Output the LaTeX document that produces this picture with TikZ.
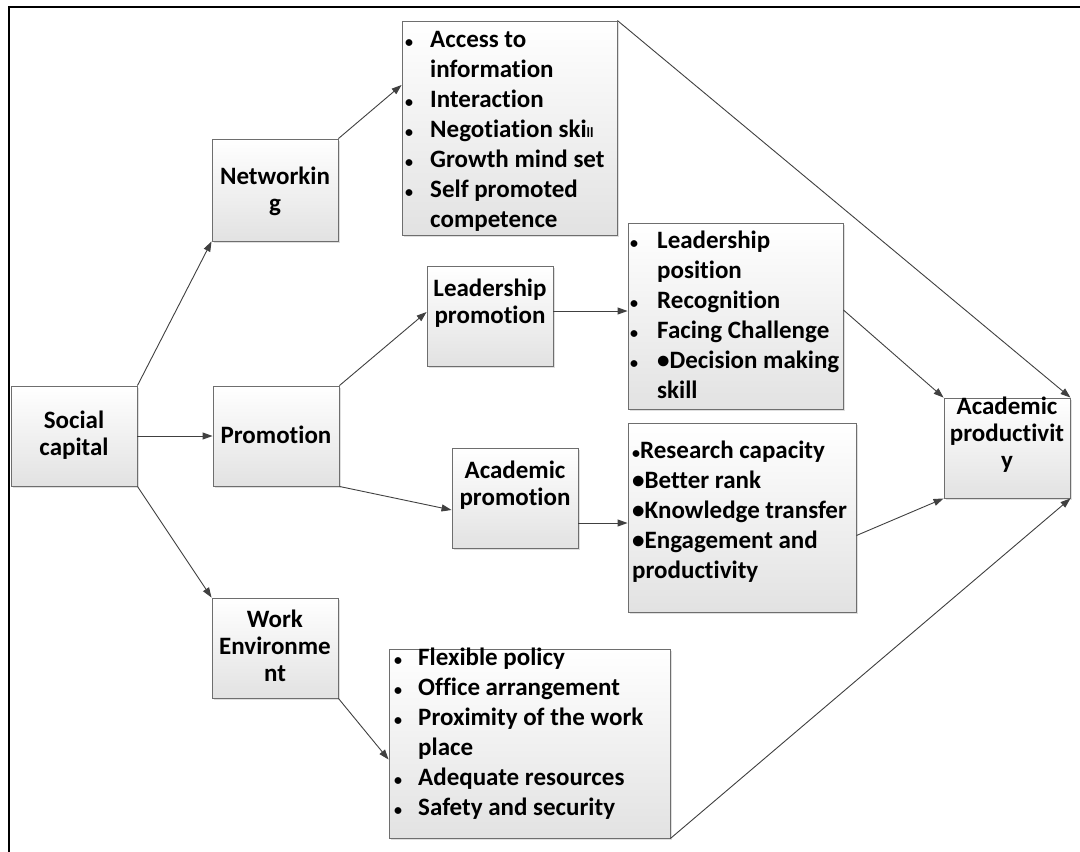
\documentclass[tikz,border=0pt]{standalone}
\usepackage{fontspec}
\setmainfont{Carlito}[Ligatures=NoCommon]
\usetikzlibrary{arrows.meta,shadows}

\definecolor{boxline}{RGB}{110,110,110}
\definecolor{boxfill}{RGB}{226,226,226}
\definecolor{linkgray}{RGB}{64,64,64}

\newlength\bw
\newcommand\bl{\makebox[\bw][l]{\fontsize{16}{16}\selectfont\textbullet}}
\newcommand\ind{\hspace*{\bw}}
\newcommand\smallbl{{\fontsize{16}{16}\selectfont\textbullet}}

\tikzset{
  bwidth/.code={\setlength\bw{#1}},
  box/.style={draw=boxline, line width=0.9pt, top color=white, bottom color=boxfill,
    inner sep=0pt, drop shadow={shadow xshift=1.5pt, shadow yshift=-1.5pt, opacity=0.25}},
  lbl/.style={font=\bfseries\fontsize{25}{27}\selectfont, align=center, inner sep=0pt, anchor=north},
  lst/.style={font=\bfseries\fontsize{25}{30}\selectfont, align=left, inner sep=0pt, anchor=north west},
  link/.style={draw=linkgray, line width=0.9pt, -{Triangle[length=10pt,width=7pt]}},
}

\begin{document}
\begin{tikzpicture}[x=1pt,y=-1pt]
    \useasboundingbox (0,0) rectangle (1080,852);
    \draw [black, line width=2pt] (1080,6.7) -- (8.7,6.7) -- (8.7,852);
    % left column
    \node [box, minimum width=126pt, minimum height=100pt] (soc) at (74,436) {};
    \node [lbl] (soct) at (74,409) {\strut Social\\capital};
    \node [box, minimum width=126pt, minimum height=102pt] (net) at (275,190) {};
    \node [lbl] (nett) at (275,165) {\strut Networkin\\g};
    \node [box, minimum width=126pt, minimum height=100pt] (prom) at (276,436) {};
    \node [lbl] (promt) at (276,424) {\strut Promotion};
    \node [box, minimum width=126pt, minimum height=100pt] (work) at (275,648) {};
    \node [lbl] (workt) at (275,608) {\strut Work\\Environme\\nt};
    % second column
    \node [box, minimum width=126pt, minimum height=100pt] (lp) at (490,316) {};
    \node [lbl] (lpt) at (490,277) {\strut Leadership\\promotion};
    \node [box, minimum width=126pt, minimum height=100pt] (ap) at (515,498) {};
    \node [lbl] (apt) at (515,459) {\strut Academic\\promotion};
    % lists
    \node [box, minimum width=215pt, minimum height=214pt] (acc) at (509.5,128) {};
    \node [lst, bwidth=25pt] (acct) at (405,26) {\strut\bl Access to\\
      \ind information\\
      \bl Interaction\\
      \bl Negotiation ski{\fontsize{14}{14}\selectfont ll}\\
      \bl Growth mind set\\
      \bl Self promoted\\
      \ind competence};
    \node [box, minimum width=215pt, minimum height=186pt] (lpos) at (735.5,316) {};
    \node [lst, bwidth=27pt] (lpost) at (630,227) {\strut\bl Leadership\\
      \ind position\\
      \bl Recognition\\
      \bl Facing Challenge\\
      \bl\textbullet Decision making\\
      \ind skill};
    \node [box, minimum width=228pt, minimum height=189pt] (res) at (742,517.5) {};
    \node [lst] (rest) at (632,437) {\strut\smallbl Research capacity\\
      \textbullet Better rank\\
      \textbullet Knowledge transfer\\
      \textbullet Engagement and\\
      productivity};
    \node [box, minimum width=281pt, minimum height=189pt] (flex) at (529.5,743.5) {};
    \node [lst, bwidth=24pt] (flext) at (394,644) {\strut\bl Flexible policy\\
      \bl Office arrangement\\
      \bl Proximity of the work\\
      \ind place\\
      \bl Adequate resources\\
      \bl Safety and security};
    % outcome
    \node [box, minimum width=126pt, minimum height=100pt] (prod) at (1007,448) {};
    \node [lbl] (prodt) at (1007,395) {\strut Academic\\productivit\\y};
    % links
    \draw [link] (soc.north east) -- (net.south west);
    \draw [link] (soc.east) -- (prom.west);
    \draw [link] (soc.south east) -- (work.north west);
    \draw [link] (net.north east) -- ([yshift=43pt]acc.west);
    \draw [link] (prom.north east) -- ([yshift=4pt]lp.west);
    \draw [link] (prom.south east) -- ([yshift=-12pt]ap.west);
    \draw [link] (work.south east) -- ([yshift=-16pt]flex.west);
    \draw [link] ([yshift=5pt]lp.east) -- ([yshift=5pt]lp.east -| lpos.west);
    \draw [link] ([yshift=-25pt]ap.east) -- ([yshift=-25pt]ap.east -| res.west);
    \draw [link] (acc.north east) -- (prod.north east);
    \draw [link] ([yshift=6pt]lpos.east) -- (prod.north west);
    \draw [link] ([yshift=-18pt]res.east) -- (prod.south west);
    \draw [link] (flex.south east) -- (prod.south east);
\end{tikzpicture}
\end{document}
